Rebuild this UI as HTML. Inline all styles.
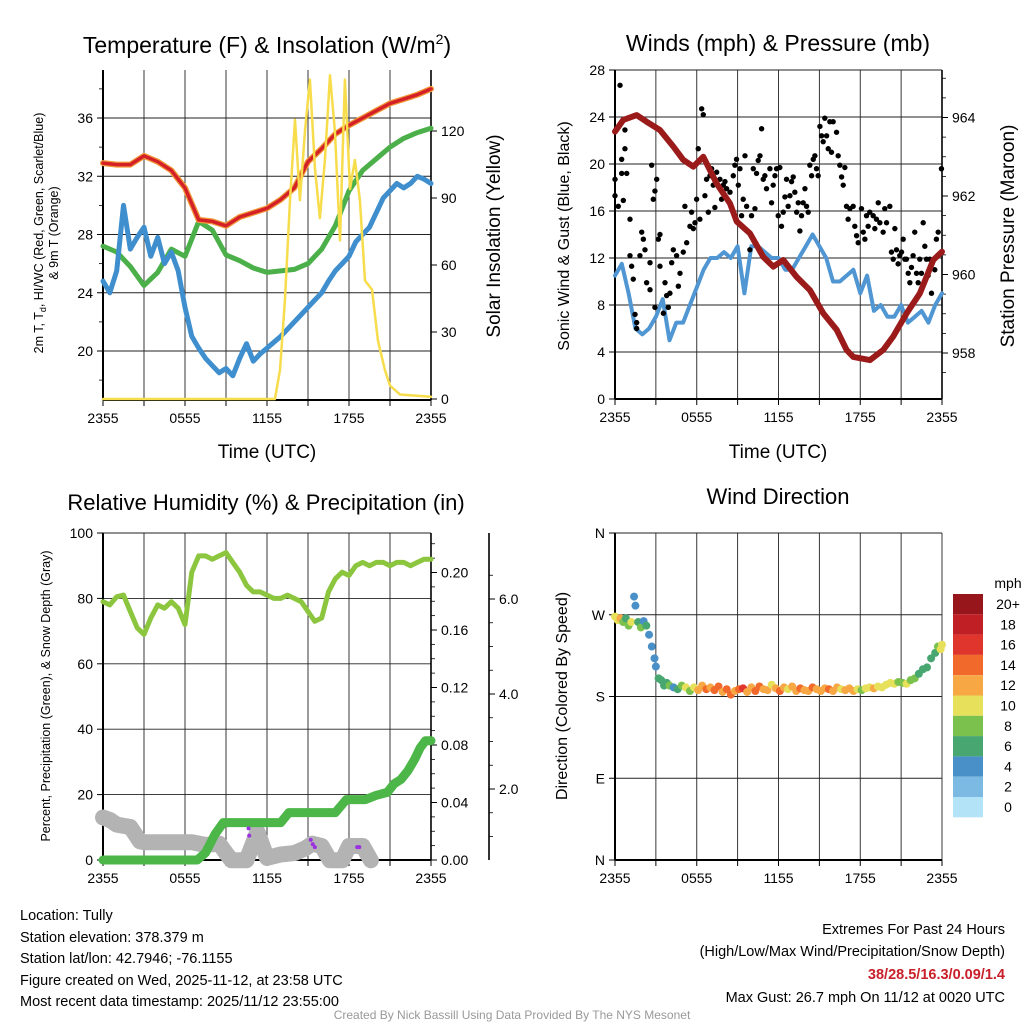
<!DOCTYPE html>
<html><head><meta charset="utf-8"><style>
html,body{margin:0;padding:0;background:#fff;}
svg{display:block;font-family:"Liberation Sans",Arial,sans-serif;}
</style></head><body>
<svg id="chart" xmlns="http://www.w3.org/2000/svg" width="1024" height="1024" viewBox="0 0 1024 1024">
<rect x="0" y="0" width="1024" height="1024" fill="#fff"/>
<text x="267" y="53" font-size="23" text-anchor="middle">Temperature (F) &amp; Insolation (W/m<tspan font-size="14" dy="-9">2</tspan><tspan dy="9">)</tspan></text>
<text x="778" y="51" font-size="23" text-anchor="middle">Winds (mph) &amp; Pressure (mb)</text>
<text x="266" y="510" font-size="22" text-anchor="middle">Relative Humidity (%) &amp; Precipitation (in)</text>
<text x="778" y="504" font-size="22" text-anchor="middle">Wind Direction</text>
<text x="267" y="458" font-size="19" text-anchor="middle">Time (UTC)</text>
<text x="778" y="458" font-size="19" text-anchor="middle">Time (UTC)</text>
<text transform="translate(43,233) rotate(-90)" font-size="12.5" text-anchor="middle">2m T, T<tspan font-size="9" dy="3">d</tspan><tspan dy="-3">, HI/WC (Red, Green, Scarlet/Blue)</tspan></text>
<text transform="translate(58,233) rotate(-90)" font-size="12.5" text-anchor="middle">&amp; 9m T (Orange)</text>
<text transform="translate(500,236) rotate(-90)" font-size="19" text-anchor="middle">Solar Insolation (Yellow)</text>
<text transform="translate(569,236) rotate(-90)" font-size="16" text-anchor="middle">Sonic Wind &amp; Gust (Blue, Black)</text>
<text transform="translate(1014,236) rotate(-90)" font-size="19" text-anchor="middle">Station Pressure (Maroon)</text>
<text transform="translate(50,696) rotate(-90)" font-size="12.5" text-anchor="middle">Percent, Precipitation (Green), &amp; Snow Depth (Gray)</text>
<text transform="translate(567,696) rotate(-90)" font-size="16" text-anchor="middle">Direction (Colored By Speed)</text>
<g font-size="14.5">
<text x="20" y="920">Location: Tully</text>
<text x="20" y="942">Station elevation: 378.379 m</text>
<text x="20" y="963">Station lat/lon: 42.7946; -76.1155</text>
<text x="20" y="985">Figure created on Wed, 2025-11-12, at 23:58 UTC</text>
<text x="20" y="1006">Most recent data timestamp: 2025/11/12 23:55:00</text>
</g>
<g font-size="14.5" text-anchor="end">
<text x="1005" y="934">Extremes For Past 24 Hours</text>
<text x="1005" y="956">(High/Low/Max Wind/Precipitation/Snow Depth)</text>
<text x="1005" y="979" fill="#c8202a" font-weight="bold">38/28.5/16.3/0.09/1.4</text>
<text x="1005" y="1002">Max Gust: 26.7 mph On 11/12 at 0020 UTC</text>
</g>
<text x="512" y="1019" font-size="12" fill="#999" text-anchor="middle">Created By Nick Bassill Using Data Provided By The NYS Mesonet</text>
</svg>
<script>
// ---------- DATA ----------
const xTickLabels = ["2355","0555","1155","1755","2355"];
const hourlyT = [0,1,2,3,4,5,6,7,8,9,10,11,12,13,14,15,16,17,18,19,20,21,22,23,24];
const tempRed = [32.9,32.8,32.8,33.4,33.0,32.4,31.2,29.0,28.9,28.6,29.2,29.5,29.8,30.4,31.2,33.0,33.9,34.9,35.5,36.0,36.5,37.0,37.3,37.6,38.0];
const tempGreen = [27.2,26.8,25.8,24.5,25.4,27.0,26.5,28.9,28.3,26.6,26.2,25.7,25.4,25.5,25.6,26.0,27.0,28.6,31.0,32.4,33.2,34.0,34.6,35.0,35.3];
const halfT = [0,0.5,1,1.5,2,2.5,3,3.5,4,4.5,5,5.5,6,6.5,7,7.5,8,8.5,9,9.5,10,10.5,11,11.5,12,12.5,13,13.5,14,14.5,15,15.5,16,16.5,17,17.5,18,18.5,19,19.5,20,20.5,21,21.5,22,22.5,23,23.5,24];
const tempBlue = [24.8,24.0,25.5,30.0,27.0,27.8,28.5,26.5,27.8,26.0,26.8,25.5,23.0,21.0,20.2,19.5,19.0,18.5,18.8,18.3,19.5,20.5,19.3,19.8,20.2,20.6,21.0,21.5,22.0,22.5,23.0,23.5,24.0,24.8,25.5,26.0,26.5,27.5,28.0,28.5,29.5,30.5,31.0,31.5,31.2,31.5,32.0,31.8,31.5];
const solarT = [0,12.58,12.95,13.31,13.68,14.05,14.41,14.78,15.14,15.51,15.87,16.24,16.61,16.97,17.34,17.70,18.07,18.43,18.80,19.17,19.68,20.12,20.63,21.0,21.73,24];
const solarV = [0,0,13,44,89,125,89,120,143,103,81,107,145,120,71,143,94,107,89,53,49,26,13,6,2,1];
const tempTicks = [20,24,28,32,36];
const tempMinor = [18,22,26,30,34,38];
const solarTicks = [0,30,60,90,120];

const windSpeed = [10.5,11.5,9,6,5.5,6,7,8.5,5,6.5,6.5,8,9.5,11,12,12,12.5,12,13,9,13,13,12.5,12,12,11,11,12,13,14,13,12,10,10,10.5,11,9,10.5,7.5,8,7,7,8,6.5,7,7.5,6.5,8,9];
const pressT = [0,0.61,1.59,2.33,3.3,4.28,5.01,5.75,6.48,7.46,8.44,8.93,9.9,10.88,11.62,12.35,13.33,14.31,15.29,16.27,17.0,17.49,18.71,19.69,20.42,21.4,22.38,23.36,24];
const pressV = [963.64,963.94,964.06,963.89,963.68,963.26,962.92,962.75,963.0,962.32,961.81,961.35,961.05,960.45,960.2,960.37,959.94,959.6,959.01,958.59,958.08,957.9,957.82,958.08,958.42,959.01,959.52,960.37,960.58];
const gustT = [0,0,0.24,0.37,0.73,0.73,0.49,0.49,0.61,0.86,1.10,1.10,1.22,1.34,1.47,1.59,1.59,1.83,1.96,2.08,2.20,2.32,2.57,2.57,2.69,2.81,2.93,3.06,2.93,3.18,3.30,3.30,3.55,3.67,3.79,3.91,4.03,4.16,4.28,4.52,4.65,4.77,5.01,5.13,5.26,5.50,5.62,5.75,5.87,5.99,6.11,6.23,6.36,6.48,6.60,6.72,6.85,6.97,7.09,7.21,7.33,7.46,7.70,7.82,7.95,8.07,8.19,8.44,8.68,8.80,8.92,9.05,9.17,9.29,9.41,9.54,9.66,9.90,10.02,10.15,10.27,10.39,10.51,10.64,10.76,10.88,11.00,11.12,11.37,11.49,11.61,11.74,11.86,11.98,12.10,12.22,12.35,12.47,12.59,12.71,12.84,12.96,13.08,13.20,13.33,13.45,13.57,13.69,13.81,13.94,14.06,14.18,14.30,14.43,14.55,14.67,14.79,14.91,15.04,15.16,15.28,15.40,15.53,15.65,15.77,15.89,16.01,16.26,16.38,16.50,16.63,16.75,16.87,16.99,17.11,17.24,17.48,17.60,17.73,17.85,18.09,18.22,18.34,18.46,18.58,18.70,18.95,19.07,19.19,19.32,19.44,19.68,19.80,19.93,20.17,20.29,20.42,20.54,20.66,20.78,20.90,21.03,21.15,21.27,21.39,21.52,21.64,21.76,21.88,22.00,22.13,22.25,22.37,22.49,22.62,22.74,22.86,22.98,23.11,23.23,23.47,23.59,23.72,23.96];
const gustV = [18.7,17.3,16.4,26.7,22.9,21.3,20.4,19.2,16.9,19.2,15.3,12.2,11.3,10.2,7.2,6.5,6.0,12.2,14.2,13.6,12.7,9.9,9.3,11.6,19.9,17.0,17.7,18.7,7.8,13.6,14.0,11.3,7.3,9.9,8.8,7.8,9.0,11.6,12.7,12.2,9.6,10.7,12.5,16.4,13.3,14.7,15.9,14.5,15.0,17.0,21.3,15.3,24.7,24.2,17.3,18.7,15.9,19.0,19.6,18.2,16.3,19.3,18.7,17.0,18.2,18.5,17.9,17.6,19.0,19.9,20.4,18.2,19.6,15.6,17.0,20.7,16.4,12.7,15.6,19.6,16.2,19.2,20.3,20.7,23.0,18.7,19.0,17.9,19.6,16.7,18.2,19.0,19.6,15.6,19.7,14.7,15.9,17.2,18.7,16.4,17.3,18.5,18.9,17.6,15.9,16.7,14.3,15.6,16.7,17.9,16.4,15.9,19.9,19.0,20.4,20.7,19.6,19.0,23.2,22.4,21.9,23.9,22.4,21.3,23.6,21.0,23.6,22.7,20.7,19.9,18.9,18.2,19.7,16.4,15.3,16.2,16.4,14.7,13.9,13.3,16.2,14.2,13.6,15.6,14.7,15.9,15.6,14.5,15.3,16.7,15.0,14.2,16.2,15.0,16.4,12.5,11.9,14.5,12.7,11.5,12.2,12.5,13.6,11.9,11.9,10.7,9.9,11.2,12.2,14.2,10.7,9.9,11.9,10.7,15.0,13.0,11.9,10.5,11.9,9.0,11.0,13.6,14.2,19.6];
const windTicks = [0,4,8,12,16,20,24,28];
const pressTicks = [958,960,962,964];
const pressMinor = [957.5,958.5,959,959.5,960.5,961,961.5,962.5,963,963.5,964.5,965];

const rhV = [79,78,80.5,81,76,71,69,74,78,77,79,77,72,88,93,93,92,93,94,91,88,84,82,82,81,80,80,81,80,79,76,73,74,82,86,88,87,90,91,90,91,91,90,91,91,90,91,92,92];
const precipT = [0,6.9,7.5,8.2,8.8,13.0,13.6,17.0,17.8,19.2,20.0,20.8,21.3,21.8,22.3,22.8,23.2,23.6,24];
const precipV = [0,0,0.005,0.018,0.026,0.026,0.033,0.033,0.042,0.042,0.045,0.047,0.053,0.056,0.062,0.070,0.078,0.083,0.083];
const snowT = [0,0.5,1,2,2.7,3,6.5,7.5,8.5,9,9.4,10.5,11.3,12,13,14,14.8,15.3,16,16.6,17.5,18,19,19.6];
const snowV = [1.4,1.35,1.25,1.2,0.9,0.88,0.88,0.82,0.85,0.65,0.5,0.5,1.1,0.55,0.62,0.65,0.75,0.85,0.8,0.5,0.5,0.8,0.8,0.5];
const purpleT = [10.65,10.7,15.2,15.35,15.5,18.6,18.75];
const purpleV = [0.022,0.017,0.014,0.011,0.009,0.009,0.009];
const rhTicks = [0,20,40,60,80,100];
const precipTicks = [0,0.04,0.08,0.12,0.16,0.20];
const precipMinor = [0.01,0.02,0.03,0.05,0.06,0.07,0.09,0.10,0.11,0.13,0.14,0.15,0.17,0.18,0.19,0.21,0.22];
const snowTicks = [2,4,6];
const snowMinor = [1,1.5,2.5,3,3.5,4.5,5,5.5,6.5];

const dirT = [0,0.2,0.4,0.6,0.8,1.0,1.2,1.4,1.5,1.7,1.9,2.1,2.3,2.5,2.7,2.9,3.0,3.2,3.4,3.6,3.8,4.0,4.3,4.6,4.9,5.2,5.5,5.8,6.1,6.4,6.7,7.0,7.3,7.6,7.9,8.2,8.5,8.8,9.1,9.4,9.7,10.0,10.3,10.6,10.9,11.2,11.5,11.8,12.1,12.4,12.7,13.0,13.3,13.6,13.9,14.2,14.5,14.8,15.1,15.4,15.7,16.0,16.3,16.6,16.9,17.2,17.5,17.8,18.1,18.4,18.7,19.0,19.3,19.6,19.9,20.2,20.5,20.8,21.1,21.4,21.7,22.0,22.3,22.6,22.9,23.2,23.5,23.7,23.9,24.0];
const dirV = [268,264,266,262,266,258,262,290,280,262,256,263,258,248,235,222,213,200,198,192,195,192,190,188,192,190,186,190,187,192,188,190,187,191,185,188,182,186,188,189,185,190,186,191,188,187,193,189,186,190,188,191,186,189,187,186,190,188,186,189,188,186,190,188,187,189,186,188,187,189,190,189,191,190,193,195,194,196,195,194,198,200,205,210,212,222,228,235,232,237];
const dirSpd = [10,11,12,9,6,8,10,4,5,6,8,4,6,4,4,4,5,6,7,6,7,8,5,6,8,10,9,11,12,12,14,13,15,14,12,14,15,13,14,16,13,12,15,14,13,12,11,13,14,12,11,12,13,14,12,13,14,12,13,12,14,13,12,11,12,13,12,10,9,11,10,12,10,11,10,10,11,8,9,10,8,8,7,7,6,7,6,9,10,10];
const dirTicks = [0,90,180,270,360];
const dirLabels = ["N","E","S","W","N"];
const legendLabels = ["20+","18","16","14","12","10","8","6","4","2","0"];
const legendColors = ["#97161b","#c01f26","#e0352d","#f26a2b","#f7a845","#e6e05a","#7ac14e","#48a771","#4a90c8","#7cb9e3","#b3e3f7"];

// ---------- HELPERS ----------
const NS = "http://www.w3.org/2000/svg";
const svg = document.getElementById('chart');
function mk(tag, attrs, parent){
  const e = document.createElementNS(NS, tag);
  for (const k in attrs) e.setAttribute(k, attrs[k]);
  (parent || svg).appendChild(e);
  return e;
}
function lin(d0, d1, r0, r1){ return v => r0 + (v - d0) * (r1 - r0) / (d1 - d0); }
function pathD(ts, vs, fx, fy){ return ts.map((t,i)=>(i?'L':'M')+fx(t).toFixed(1)+','+fy(vs[i]).toFixed(1)).join(''); }
function spdColor(s){ const idx = Math.min(10, Math.floor(s/2)); return legendColors[10-idx]; }

function drawFrame(g, P, fx, yTickVals, fyL, yLabels, gridV){
  for (let h=0; h<=24; h+=3){
    const x = fx(h);
    const ln = mk('line',{x1:x,x2:x,y1:P.y0,y2:P.y1,stroke:'#222','stroke-width':0.9},g);
    
    
    const tk = mk('line',{x1:x,x2:x,y1:P.y1,y2:P.y1+6,stroke:'#000','stroke-width':1},g);
    
    
  }
  xTickLabels.forEach((s,i)=>{
    const t = mk('text',{x:fx(i*6),y:P.y1+23,'font-size':14,'text-anchor':'middle'},g);
    t.textContent = s;
    
    
  });
  yTickVals.forEach((v,i)=>{
    const y = fyL(v);
    if (gridV) {
      const gl = mk('line',{x1:P.x0,x2:P.x1,y1:y,y2:y,stroke:'#222','stroke-width':0.9},g);
      
      
    }
    const tk = mk('line',{x1:P.x0-6,x2:P.x0,y1:y,y2:y,stroke:'#000','stroke-width':1},g);
    
    
    const t = mk('text',{x:P.x0-10,y:y+5,'font-size':14,'text-anchor':'end'},g);
    t.textContent = yLabels[i];
    
    
  });
  const ax = mk('line',{x1:P.x0,x2:P.x0,y1:P.y0,y2:P.y1,stroke:'#000','stroke-width':2},g);
  
  
  const bx = mk('line',{x1:P.x0,x2:P.x1,y1:P.y1,y2:P.y1,stroke:'#000','stroke-width':2},g);
  
  
}
function minorTicks(g, P, xAxis, vals, fy, dir, name){
  vals.forEach(v=>{
    const y = fy(v);
    if (y < P.y0 - 1 || y > P.y1 + 1) return;
    const tk = mk('line',{x1:xAxis,x2:xAxis+4*dir,y1:y,y2:y,stroke:'#000','stroke-width':0.8},g);
    
    
  });
}
function rightAxis(g, P, xAxis, vals, fy, labels, name){
  const ax = mk('line',{x1:xAxis,x2:xAxis,y1:P.y0,y2:P.y1,stroke:'#000','stroke-width':1.6},g);
  
  
  vals.forEach((v,i)=>{
    const y = fy(v);
    const tk = mk('line',{x1:xAxis,x2:xAxis+6,y1:y,y2:y,stroke:'#000','stroke-width':1},g);
    
    
    const t = mk('text',{x:xAxis+10,y:y+5,'font-size':14},g);
    t.textContent = labels[i];
    
    
  });
}
function line(g, ts, vs, fx, fy, color, w, name){
  const p = mk('path',{d:pathD(ts,vs,fx,fy),fill:'none',stroke:color,'stroke-width':w,'stroke-linejoin':'round','stroke-linecap':'round'},g);
  
  
  return p;
}

// ---------- PANEL 1 ----------
(function(){
  const P = {x0:103,x1:431,y0:70,y1:400};
  const g = mk('g',{});
  
  
  const fx = lin(0,24,P.x0,P.x1);
  const fT = lin(36,20,118,351);
  const fS = lin(0,120,399,131);
  drawFrame(g,P,fx,tempTicks,fT,tempTicks.map(String),true);
  minorTicks(g,P,P.x0,tempMinor,fT,-1,'temp');
  rightAxis(g,P,P.x1,solarTicks,fS,solarTicks.map(String),'solar');
  line(g,hourlyT,tempGreen,fx,fT,'#4bb04a',5,'dewpoint-line');
  line(g,halfT,tempBlue,fx,fT,'#3f8fce',5,'windchill-line');
  line(g,hourlyT,tempRed,fx,fT,'#f29a3a',6,'temp-9m-line');
  line(g,hourlyT,tempRed,fx,fT,'#d42027',3.5,'temp-2m-line');
  line(g,solarT,solarV,fx,fS,'#f7dc4c',2.5,'solar-line');
})();

// ---------- PANEL 2 ----------
(function(){
  const P = {x0:615,x1:942,y0:70,y1:399};
  const g = mk('g',{});
  
  
  const fx = lin(0,24,P.x0,P.x1);
  const fW = lin(0,28,399,70);
  const fP = lin(958,964,353,117.5);
  drawFrame(g,P,fx,windTicks,fW,windTicks.map(String),true);
  rightAxis(g,P,P.x1,pressTicks,fP,pressTicks.map(String),'pressure');
  minorTicks(g,P,P.x1,pressMinor,fP,1,'pressure');
  line(g,halfT,windSpeed,fx,fW,'#4f96d3',4,'sonic-wind-line');
  gustT.forEach((t,i)=>{
    const c = mk('circle',{cx:fx(t),cy:fW(gustV[i]),r:2.7,fill:'#000'},g);
    
    
  });
  line(g,pressT,pressV,fx,fP,'#9b1b1b',6,'pressure-line');
})();

// ---------- PANEL 3 ----------
(function(){
  const P = {x0:103,x1:431,y0:533,y1:860};
  const g = mk('g',{});
  
  
  const fx = lin(0,24,P.x0,P.x1);
  const fR = lin(0,100,860,533);
  const fPr = lin(0,0.04,860,802.5);
  const fSn = lin(0,2,884,789);
  drawFrame(g,P,fx,rhTicks,fR,rhTicks.map(String),true);
  rightAxis(g,P,P.x1,precipTicks,fPr,precipTicks.map(v=>v.toFixed(2)),'precip');
  minorTicks(g,P,P.x1,precipMinor,fPr,1,'precip');
  rightAxis(g,P,489,snowTicks,fSn,snowTicks.map(v=>v.toFixed(1)),'snow');
  minorTicks(g,P,489,snowMinor,fSn,1,'snow');
  line(g,snowT,snowV,fx,fSn,'#b3b3b3',16,'snow-depth-line');
  line(g,precipT,precipV,fx,fPr,'#4cb648',9,'precip-line');
  purpleT.forEach((t,i)=>{
    const c = mk('circle',{cx:fx(t),cy:fPr(purpleV[i]),r:2,fill:'#9b30e0'},g);
    
    
  });
  line(g,halfT,rhV,fx,fR,'#8cc63f',5,'rh-line');
})();

// ---------- PANEL 4 ----------
(function(){
  const P = {x0:615,x1:942,y0:533,y1:860};
  const g = mk('g',{});
  
  
  const fx = lin(0,24,P.x0,P.x1);
  const fD = lin(0,360,860,533);
  drawFrame(g,P,fx,dirTicks,fD,dirLabels,true);
  dirT.forEach((t,i)=>{
    const c = mk('circle',{cx:fx(t),cy:fD(dirV[i]),r:4,fill:spdColor(dirSpd[i])},g);
    
    
  });
  const lg = mk('g',{});
  
  
  const mt = mk('text',{x:1008,y:588,'font-size':14,'text-anchor':'middle'},lg);
  mt.textContent = 'mph';
  
  
  legendLabels.forEach((s,i)=>{
    const y = 594 + i*20.3;
    const r = mk('rect',{x:953,y:y,width:30,height:20.3,fill:legendColors[i]},lg);
    
    
    const t = mk('text',{x:1008,y:y+15,'font-size':14,'text-anchor':'middle'},lg);
    t.textContent = s;
    
    
  });
})();
</script>
</body></html>
